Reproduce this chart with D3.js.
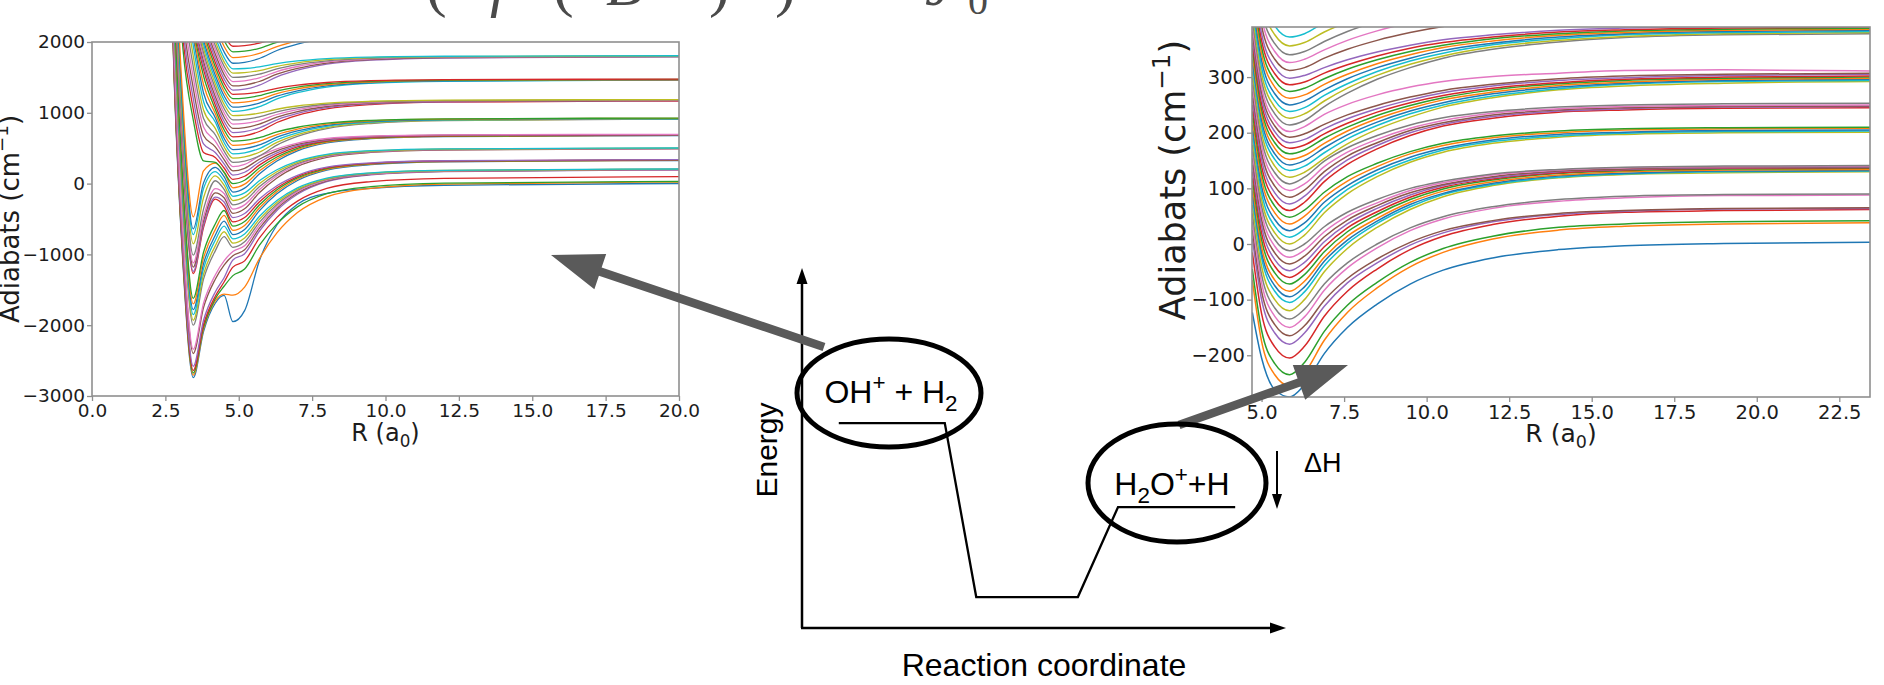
<!DOCTYPE html>
<html>
<head>
<meta charset="utf-8">
<script src="https://cdn.jsdelivr.net/npm/d3@7"></script>
<style>
  body { margin: 0; background: #fff; }
  svg { display: block; }
</style>
</head>
<body>
<svg id="fig" width="1884" height="685"></svg>
<script>
// ---------- Left panel: adiabats for OH+ + H2 (cm^-1 vs R in a0) ----------
const leftR = [2.6, 2.8, 3.1, 3.45, 3.8, 4.2, 4.5, 4.8, 5.2, 5.7, 6.3, 7.0, 8.0, 9.5, 12, 20];
const leftAdiabats = [
  [4260,1460,-1140,-2740,-2090,-1690,-1580,-1950,-1794,-1092,-585,-293,-137,-68,-23,0],
  [4295,1495,-1105,-2705,-2055,-1655,-1560,-1575,-1463,-1064,-697,-409,-186,-66,-7,22],
  [4325,1525,-1075,-2675,-2025,-1625,-1450,-1300,-1207,-874,-569,-329,-143,-43,6,30],
  [4360,1560,-1040,-2640,-1990,-1590,-1390,-1180,-1091,-771,-477,-247,-68,28,75,98],
  [4420,1620,-980,-2580,-1930,-1530,-1330,-1080,-991,-673,-380,-151,27,122,169,192],
  [4600,1800,-800,-2400,-1750,-1350,-1150,-1020,-935,-631,-351,-132,38,129,174,196],
  [4660,1860,-740,-2340,-1690,-1290,-1090,-960,-879,-589,-323,-114,48,135,178,199],
  [5000,2200,-400,-2000,-1350,-950,-750,-900,-823,-547,-294,-96,59,141,182,202],
  [5070,2270,-330,-1930,-1280,-880,-680,-840,-767,-506,-266,-78,68,147,185,204],
  [5150,2350,-250,-1850,-1200,-800,-600,-780,-711,-464,-238,-60,78,152,188,206],
  [5220,2420,-180,-1780,-1130,-730,-530,-720,-647,-385,-145,44,190,268,307,326],
  [5300,2500,-100,-1700,-1050,-650,-450,-660,-591,-344,-116,62,200,275,311,329],
  [5380,2580,-20,-1620,-970,-570,-380,-600,-535,-302,-87,80,211,281,315,332],
  [5730,2930,330,-1270,-620,-220,-320,-540,-479,-260,-59,99,221,287,319,335],
  [5760,2960,360,-1240,-590,-190,-260,-480,-423,-218,-30,117,232,293,323,338],
  [5820,3020,420,-1180,-530,-130,-200,-420,-356,-129,80,244,372,440,474,490],
  [5880,3080,480,-1120,-470,-70,-140,-360,-300,-87,110,263,383,447,479,494],
  [5990,3190,590,-1010,-360,40,-80,-300,-244,-45,138,282,393,453,483,497],
  [6150,3350,750,-850,-200,110,-20,-240,-188,-3,167,300,404,459,487,500],
  [6280,3480,880,-720,-70,170,40,-180,-132,39,196,319,414,465,491,503],
  [6360,3560,960,-640,10,230,100,-120,-64,135,319,463,574,634,664,678],
  [6530,3730,1130,-470,180,290,160,-60,-8,177,348,481,585,640,668,681],
  [5000,3800,1900,900,320,300,160,0,48,219,376,499,595,646,672,684],
  [5060,3860,2050,1050,440,370,220,60,104,261,405,518,605,653,676,687],
  [5120,3920,2200,1200,560,440,280,120,160,302,433,536,616,659,680,690],
  [5180,3980,2350,1350,680,520,340,180,216,344,462,554,626,665,684,693],
  [5240,4040,2500,1500,800,600,400,240,272,386,491,573,637,671,688,696],
  [5300,4100,2650,1650,920,690,460,300,318,391,544,666,776,849,889,909],
  [5360,4160,2800,1800,1040,780,520,360,377,443,582,692,792,859,895,913],
  [5420,4220,2950,1950,1160,870,580,420,435,495,619,718,808,867,900,916],
  [5480,4280,3080,2080,1280,930,640,480,493,546,656,744,823,876,905,919],
  [5540,4340,3140,2140,1400,990,700,540,551,597,693,770,839,885,910,922],
  [5600,4400,3200,2200,1520,1050,760,600,610,649,730,796,854,893,915,925],
  [5660,4460,3260,2260,1610,1110,820,660,675,736,863,965,1056,1117,1150,1167],
  [5720,4520,3320,2320,1670,1170,880,720,734,788,901,991,1073,1127,1156,1171],
  [5780,4580,3380,2380,1730,1230,940,780,792,839,938,1018,1089,1136,1162,1175],
  [5840,4640,3440,2440,1790,1290,1000,840,850,891,976,1044,1105,1146,1168,1179],
  [5900,4700,3500,2500,1850,1350,1060,900,908,942,1013,1070,1121,1155,1173,1182],
  [5960,4760,3560,2560,1910,1410,1120,960,967,994,1050,1096,1136,1163,1178,1186],
  [6020,4820,3620,2620,1970,1470,1180,1020,1033,1086,1196,1284,1363,1416,1445,1459],
  [6080,4880,3680,2680,2030,1530,1240,1080,1092,1138,1234,1310,1380,1426,1451,1463],
  [6140,4940,3740,2740,2090,1590,1300,1140,1150,1189,1271,1337,1396,1435,1457,1467],
  [6200,5000,3800,2800,2150,1650,1360,1200,1208,1241,1309,1363,1412,1445,1462,1471],
  [6260,5060,3860,2860,2210,1710,1420,1260,1266,1292,1346,1390,1428,1454,1468,1476],
  [6320,5120,3920,2920,2270,1770,1480,1320,1334,1390,1508,1602,1687,1743,1774,1789],
  [6380,5180,3980,2980,2330,1830,1540,1380,1392,1442,1546,1628,1703,1753,1780,1793],
  [6440,5240,4040,3040,2390,1890,1600,1440,1451,1494,1583,1654,1718,1761,1785,1796],
  [6500,5300,4100,3100,2450,1950,1660,1500,1509,1545,1620,1680,1734,1770,1789,1799],
  [6560,5360,4160,3160,2510,2010,1720,1560,1567,1596,1657,1706,1750,1779,1794,1803],
  [6620,5420,4220,3220,2570,2070,1780,1620,1626,1648,1694,1732,1765,1787,1799,1806],
  [6700,5500,4300,3300,2650,2150,1860,1700,1713,1767,1880,1970,2051,2105,2134,2149],
  [6780,5580,4380,3380,2730,2230,1940,1780,1792,1838,1936,2014,2084,2131,2156,2169],
  [6860,5660,4460,3460,2810,2310,2020,1860,1870,1911,1996,2064,2125,2166,2188,2199],
  [6940,5740,4540,3540,2890,2390,2100,1940,1949,1983,2056,2114,2166,2201,2220,2229]
];
const leftXTicks = [0, 2.5, 5, 7.5, 10, 12.5, 15, 17.5, 20];
const leftYTicks = [-3000, -2000, -1000, 0, 1000, 2000];

// ---------- Right panel: adiabats for H2O+ + H ----------
const rightR = [4.72, 5.0, 5.4, 5.85, 6.3, 6.9, 7.6, 8.5, 9.5, 10.5, 12, 14, 16, 19, 23.5];
const rightAdiabats = [
  [-123,-205,-262,-275,-253,-197,-150,-108,-72,-47,-25,-10,-3,1,3],
  [-65,-175,-235,-255,-232,-173,-123,-79,-41,-15,9,25,32,36,38],
  [-45,-155,-215,-235,-213,-157,-110,-69,-33,-8,14,30,36,40,42],
  [-15,-125,-185,-205,-184,-130,-85,-45,-10,14,35,50,57,60,62],
  [10,-100,-160,-180,-160,-112,-70,-34,-2,20,40,53,59,63,64],
  [25,-85,-145,-165,-147,-101,-62,-27,3,24,42,55,60,64,65],
  [40,-70,-130,-150,-131,-83,-43,-7,24,45,64,77,83,87,88],
  [55,-55,-115,-135,-117,-72,-34,0,29,49,67,80,86,89,90],
  [70,-40,-100,-120,-100,-50,-8,30,62,85,105,119,125,128,130],
  [85,-25,-85,-105,-86,-39,1,37,67,89,107,120,126,130,131],
  [95,-15,-75,-95,-77,-31,7,41,71,91,109,122,127,131,132],
  [105,-5,-65,-85,-67,-24,14,46,75,95,112,124,130,133,134],
  [118,8,-52,-72,-55,-14,22,53,80,99,115,127,132,135,136],
  [130,20,-40,-60,-44,-5,29,58,84,102,117,128,133,136,137],
  [142,32,-28,-48,-33,4,36,64,88,105,119,130,134,137,138],
  [154,44,-16,-36,-22,13,43,69,92,107,121,131,135,138,139],
  [166,56,-4,-24,-11,22,50,74,96,110,124,133,137,139,140],
  [178,68,8,-12,0,31,57,80,100,113,126,134,138,140,141],
  [190,80,20,0,16,56,90,121,147,165,181,192,197,200,201],
  [202,92,32,12,27,65,98,127,151,169,184,194,199,202,203],
  [214,104,44,24,38,75,105,133,156,172,187,197,201,204,205],
  [226,116,56,36,50,84,113,139,162,177,191,200,205,207,208],
  [238,128,68,48,61,93,121,145,166,181,194,203,207,209,210],
  [250,140,80,60,75,112,143,171,195,212,226,237,241,244,245],
  [262,152,92,72,86,121,151,177,200,215,229,239,243,246,247],
  [274,164,104,84,97,130,158,182,204,218,232,241,245,247,248],
  [286,176,116,96,108,139,165,188,208,222,235,243,247,249,250],
  [298,188,128,108,120,149,173,195,214,227,238,246,250,252,253],
  [310,200,140,120,129,154,180,206,228,246,263,277,284,289,292],
  [322,212,152,132,140,164,189,213,234,250,266,279,287,292,294],
  [332,222,162,142,150,173,196,219,239,254,270,282,289,294,296],
  [342,232,172,152,159,181,203,225,244,259,273,285,291,296,298],
  [352,242,182,162,169,190,210,231,249,263,277,288,294,298,300],
  [362,252,192,172,178,198,217,237,254,267,280,290,296,300,302],
  [372,262,202,182,188,207,225,243,259,272,284,294,299,303,305],
  [382,272,212,192,198,215,232,249,264,276,287,297,302,305,307],
  [392,282,222,202,211,233,251,268,282,292,301,307,312,313,311],
  [404,294,234,214,222,247,271,296,317,334,350,363,371,376,378],
  [416,306,246,226,234,257,280,303,323,338,354,366,373,378,380],
  [428,318,258,238,245,267,288,310,329,343,358,369,376,380,382],
  [440,330,270,250,257,277,297,317,334,348,361,372,378,382,384],
  [452,342,282,262,268,287,305,324,340,353,365,375,380,384,386],
  [464,354,294,274,280,297,314,331,346,357,369,378,383,386,388],
  [476,366,306,286,291,307,322,338,352,362,372,381,385,388,390],
  [488,378,318,298,303,317,331,345,357,367,376,384,388,391,392],
  [502,392,332,312,317,334,350,366,380,391,402,410,415,418,420],
  [516,406,346,326,332,349,366,383,398,409,421,430,435,438,440],
  [530,420,360,340,346,364,382,400,416,428,440,449,455,458,460],
  [546,436,376,356,362,381,399,418,434,447,459,469,474,478,480],
  [562,452,392,372,378,398,417,436,453,465,478,488,494,498,500]
];
const rightXTicks = [5, 7.5, 10, 12.5, 15, 17.5, 20, 22.5];
const rightYTicks = [-200, -100, 0, 100, 200, 300];

// ---------- Schematic energy profile (reaction coordinate, energy), both 0..1 ----------
const profileX = [0.076, 0.295, 0.36, 0.57, 0.653, 0.895];
const profileE = [0.569, 0.569, 0.086, 0.086, 0.336, 0.336];

const svg = d3.select('#fig');
svg.append('rect').attr('width', 1884).attr('height', 685).attr('fill', '#fff');

const spineColor = '#8f8f8f';
const plotFont = '"DejaVu Sans", sans-serif';
const diagFont = '"Liberation Sans", Arial, sans-serif';

// text with super/subscript pieces
function richText(sel, parts, fs) {
  let shift = 0;
  parts.forEach(p => {
    const target = p.sup ? -0.42 * fs : (p.sub ? 0.24 * fs : 0);
    const ts = sel.append('tspan').text(p.t).attr('dy', target - shift);
    if (p.sup || p.sub) ts.attr('font-size', fs * 0.7);
    shift = target;
  });
  return sel;
}

function drawPanel(cfg) {
  const x = d3.scaleLinear().domain(cfg.xDomain).range([cfg.left, cfg.right]);
  const y = d3.scaleLinear().domain(cfg.yDomain).range([cfg.bottom, cfg.top]);
  const g = svg.append('g');

  svg.append('clipPath').attr('id', cfg.id + '-clip').append('rect')
    .attr('x', cfg.left).attr('y', cfg.top)
    .attr('width', cfg.right - cfg.left).attr('height', cfg.bottom - cfg.top);

  const line = d3.line()
    .x((d, i) => x(cfg.r[i]))
    .y(d => y(d))
    .curve(d3.curveMonotoneX);

  g.append('g').attr('clip-path', `url(#${cfg.id}-clip)`)
    .selectAll('path').data(cfg.curves).join('path')
    .attr('d', line)
    .attr('fill', 'none')
    .attr('stroke', (d, i) => d3.schemeCategory10[i % 10])
    .attr('stroke-width', cfg.lw)
    .attr('stroke-linejoin', 'round');

  const xAxis = d3.axisBottom(x).tickValues(cfg.xTicks).tickFormat(d3.format('.1f'))
    .tickSize(5).tickSizeOuter(0).tickPadding(3);
  const yAxis = d3.axisLeft(y).tickValues(cfg.yTicks).tickFormat(d3.format('d'))
    .tickSize(5).tickSizeOuter(0).tickPadding(2);
  const gx = g.append('g').attr('transform', `translate(0,${cfg.bottom})`).call(xAxis);
  const gy = g.append('g').attr('transform', `translate(${cfg.left},0)`).call(yAxis);
  [gx, gy].forEach(a => {
    a.select('.domain').remove();
    a.selectAll('.tick line').attr('stroke', spineColor).attr('stroke-width', 1.3);
    a.selectAll('.tick text').attr('fill', '#1c1c1c')
      .style('font-family', plotFont).style('font-size', cfg.tickFs + 'px');
  });

  g.append('rect')
    .attr('x', cfg.left).attr('y', cfg.top)
    .attr('width', cfg.right - cfg.left).attr('height', cfg.bottom - cfg.top)
    .attr('fill', 'none').attr('stroke', spineColor).attr('stroke-width', 1.6);

  const xl = g.append('text')
    .attr('x', (cfg.left + cfg.right) / 2).attr('y', cfg.xLabelY)
    .attr('text-anchor', 'middle').attr('fill', '#1c1c1c')
    .style('font-family', plotFont).style('font-size', cfg.xLabelFs + 'px');
  richText(xl, [{t: 'R (a'}, {t: '0', sub: true}, {t: ')'}], cfg.xLabelFs);

  const yl = g.append('text')
    .attr('transform', `translate(${cfg.yLabelX},${cfg.yLabelMid}) rotate(-90)`)
    .attr('text-anchor', 'middle').attr('fill', '#1c1c1c')
    .style('font-family', plotFont).style('font-size', cfg.yLabelFs + 'px');
  richText(yl, [{t: 'Adiabats (cm'}, {t: '\u22121', sup: true}, {t: ')'}], cfg.yLabelFs);
}

drawPanel({
  id: 'left', left: 92, right: 679, top: 42, bottom: 396,
  xDomain: [0, 20], yDomain: [-3000, 2000],
  r: leftR, curves: leftAdiabats, xTicks: leftXTicks, yTicks: leftYTicks,
  lw: 1.3, tickFs: 18.5, xLabelFs: 24, xLabelY: 441,
  yLabelFs: 26, yLabelX: 19, yLabelMid: 219
});

drawPanel({
  id: 'right', left: 1252, right: 1870, top: 27, bottom: 397,
  xDomain: [4.71, 23.43], yDomain: [-275, 390],
  r: rightR, curves: rightAdiabats, xTicks: rightXTicks, yTicks: rightYTicks,
  lw: 1.5, tickFs: 19.5, xLabelFs: 25, xLabelY: 442,
  yLabelFs: 35, yLabelX: 1185, yLabelMid: 180
});

// ---------- Equation fragment along the top edge ----------
const eq = svg.append('text').attr('y', 5).attr('fill', '#4a4a4a')
  .style('font-family', '"Liberation Serif", "DejaVu Serif", serif').style('font-size', '62px');
[['(', 426, false], ['f', 490, true], ['(', 553, false], ['B', 606, true], [')', 709, false],
 [')', 775, false], ['=', 840, false], ['J', 925, true]].forEach(([ch, px, it]) => {
  eq.append('tspan').attr('x', px).text(ch).style('font-style', it ? 'italic' : 'normal');
});
eq.append('tspan').attr('x', 968).attr('dy', 9).style('font-size', '40px').text('0');

// ---------- Reaction-energy schematic ----------
const rc = d3.scaleLinear().domain([0, 1]).range([802, 1286]);
const en = d3.scaleLinear().domain([0, 1]).range([628, 268]);
const diag = svg.append('g');

function blockArrow(x1, y1, x2, y2, shaft, headLen, headHalf, fill) {
  const dx = x2 - x1, dy = y2 - y1, L = Math.hypot(dx, dy);
  const ux = dx / L, uy = dy / L, px = -uy, py = ux;
  const bx = x2 - ux * headLen, by = y2 - uy * headLen;
  const pts = [
    [x1 + px * shaft / 2, y1 + py * shaft / 2],
    [bx + px * shaft / 2, by + py * shaft / 2],
    [bx + px * headHalf, by + py * headHalf],
    [x2, y2],
    [bx - px * headHalf, by - py * headHalf],
    [bx - px * shaft / 2, by - py * shaft / 2],
    [x1 - px * shaft / 2, y1 - py * shaft / 2]
  ];
  diag.append('path').attr('d', d3.line()(pts) + 'Z').attr('fill', fill);
}

// axes with arrowheads
diag.append('line').attr('x1', rc(0)).attr('y1', en(0)).attr('x2', rc(0)).attr('y2', en(1) + 12)
  .attr('stroke', '#000').attr('stroke-width', 2.5);
diag.append('line').attr('x1', rc(0) - 1).attr('y1', en(0)).attr('x2', rc(1) - 12).attr('y2', en(0))
  .attr('stroke', '#000').attr('stroke-width', 2.5);
diag.append('path').attr('d', `M${rc(0)},${en(1)} L${rc(0) - 5.5},${en(1) + 16} L${rc(0) + 5.5},${en(1) + 16} Z`).attr('fill', '#000');
diag.append('path').attr('d', `M${rc(1)},${en(0)} L${rc(1) - 16},${en(0) - 5.5} L${rc(1) - 16},${en(0) + 5.5} Z`).attr('fill', '#000');

// energy profile
diag.append('path')
  .attr('d', d3.line().x((d, i) => rc(profileX[i])).y(d => en(d))(profileE))
  .attr('fill', 'none').attr('stroke', '#000').attr('stroke-width', 2.3).attr('stroke-linejoin', 'miter');

// gray pointers to the two panels
blockArrow(824, 347, 551, 255, 8.5, 52, 18.5, '#5a5a5a');
blockArrow(1179, 425, 1348, 365, 8.5, 52, 18.5, '#5a5a5a');

// circled channels
diag.append('ellipse').attr('cx', 889).attr('cy', 393).attr('rx', 92).attr('ry', 54)
  .attr('fill', 'none').attr('stroke', '#000').attr('stroke-width', 5);
diag.append('ellipse').attr('cx', 1177).attr('cy', 483).attr('rx', 89).attr('ry', 59)
  .attr('fill', 'none').attr('stroke', '#000').attr('stroke-width', 5);

const t1 = diag.append('text').attr('x', 891).attr('y', 403).attr('text-anchor', 'middle')
  .style('font-family', diagFont).style('font-size', '32px').attr('fill', '#000');
richText(t1, [{t: 'OH'}, {t: '+', sup: true}, {t: ' + H'}, {t: '2', sub: true}], 32);

const t2 = diag.append('text').attr('x', 1172).attr('y', 495).attr('text-anchor', 'middle')
  .style('font-family', diagFont).style('font-size', '32px').attr('fill', '#000');
richText(t2, [{t: 'H'}, {t: '2', sub: true}, {t: 'O'}, {t: '+', sup: true}, {t: '+H'}], 32);

// enthalpy change marker
diag.append('line').attr('x1', 1277).attr('y1', 451).attr('x2', 1277).attr('y2', 496)
  .attr('stroke', '#000').attr('stroke-width', 2);
diag.append('path').attr('d', 'M1277,509 L1272,494 L1282,494 Z').attr('fill', '#000');
diag.append('text').attr('x', 1304).attr('y', 472)
  .style('font-family', diagFont).style('font-size', '27px').attr('fill', '#000').text('\u0394H');

diag.append('text')
  .attr('transform', 'translate(777,450) rotate(-90)')
  .attr('text-anchor', 'middle')
  .style('font-family', diagFont).style('font-size', '30px').attr('fill', '#000').text('Energy');

diag.append('text').attr('x', 1044).attr('y', 676).attr('text-anchor', 'middle')
  .style('font-family', diagFont).style('font-size', '32px').attr('fill', '#000').text('Reaction coordinate');
</script>
</body>
</html>
